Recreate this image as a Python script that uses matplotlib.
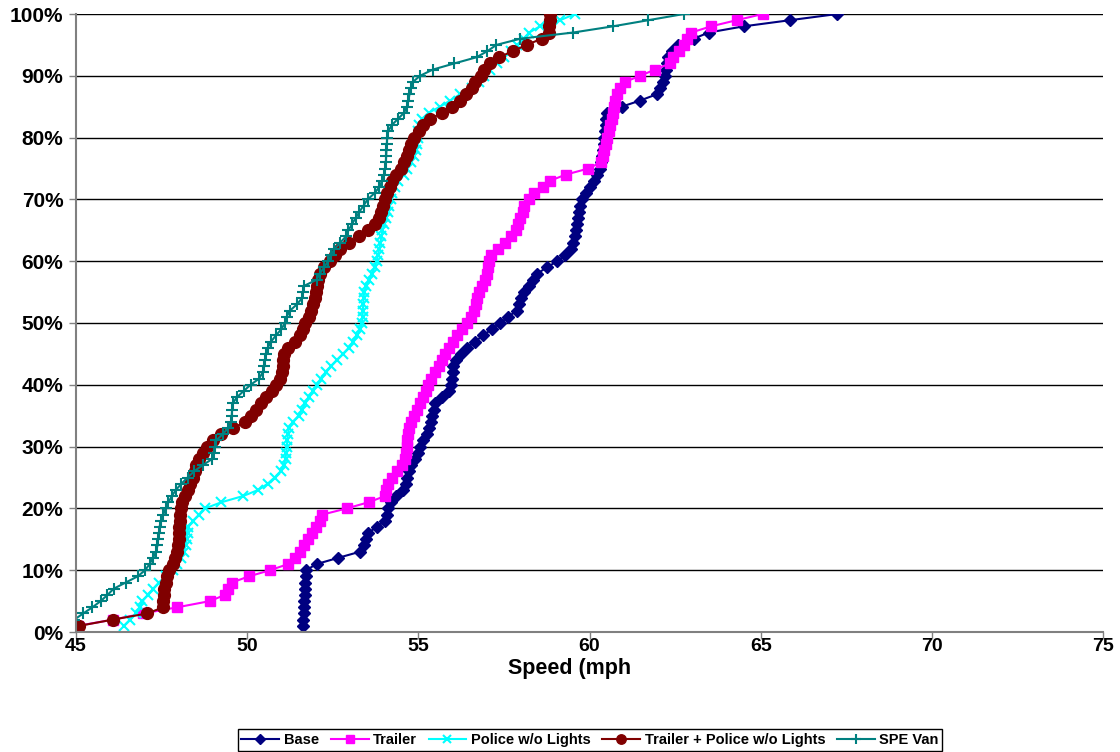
import matplotlib
matplotlib.use("Agg")
import matplotlib.pyplot as plt
from matplotlib.ticker import FuncFormatter

plt.rcParams['font.family'] = ['Liberation Sans', 'DejaVu Sans']

# cumulative percent of vehicles (1..100 %)
percentiles = list(range(1, 101))

# speeds (mph) read at each percentile
baseSpeeds = [
    51.63, 51.64, 51.65, 51.66, 51.67, 51.68, 51.69, 51.70, 51.71, 51.72,
    52.03, 52.66, 53.30, 53.41, 53.47, 53.53, 53.78, 54.03, 54.08, 54.12,
    54.20, 54.35, 54.55, 54.64, 54.68, 54.72, 54.80, 54.90, 54.98, 55.05,
    55.15, 55.24, 55.30, 55.36, 55.40, 55.45, 55.50, 55.70, 55.90, 55.95,
    55.98, 56.00, 56.02, 56.10, 56.25, 56.42, 56.66, 56.90, 57.14, 57.39,
    57.63, 57.87, 57.93, 57.99, 58.08, 58.24, 58.36, 58.48, 58.75, 59.06,
    59.29, 59.45, 59.52, 59.57, 59.60, 59.64, 59.67, 59.70, 59.73, 59.78,
    59.90, 60.02, 60.12, 60.22, 60.31, 60.35, 60.37, 60.39, 60.41, 60.43,
    60.45, 60.47, 60.49, 60.52, 60.94, 61.48, 61.96, 62.06, 62.14, 62.20,
    62.24, 62.27, 62.30, 62.42, 62.58, 63.04, 63.48, 64.50, 65.86, 67.24,
]
trailerSpeeds = [
    45.05, 46.09, 46.97, 47.96, 48.91, 49.35, 49.45, 49.55, 50.05, 50.67,
    51.20, 51.40, 51.55, 51.66, 51.77, 51.88, 52.00, 52.12, 52.20, 52.91,
    53.55, 54.03, 54.06, 54.12, 54.22, 54.38, 54.52, 54.60, 54.64, 54.66,
    54.68, 54.70, 54.73, 54.78, 54.86, 54.96, 55.05, 55.13, 55.21, 55.28,
    55.36, 55.50, 55.60, 55.68, 55.79, 55.90, 56.01, 56.14, 56.28, 56.42,
    56.53, 56.64, 56.69, 56.72, 56.78, 56.87, 56.95, 57.00, 57.03, 57.06,
    57.12, 57.32, 57.52, 57.71, 57.84, 57.92, 57.98, 58.05, 58.10, 58.22,
    58.38, 58.63, 58.84, 59.30, 59.97, 60.33, 60.38, 60.43, 60.48, 60.52,
    60.56, 60.61, 60.66, 60.70, 60.72, 60.75, 60.80, 60.90, 61.03, 61.48,
    61.91, 62.35, 62.45, 62.62, 62.75, 62.86, 62.97, 63.55, 64.30, 65.06,
]
policeSpeeds = [
    46.40, 46.58, 46.75, 46.86, 46.94, 47.10, 47.26, 47.42, 47.62, 47.82,
    47.94, 48.06, 48.15, 48.20, 48.24, 48.26, 48.28, 48.42, 48.60, 48.77,
    49.25, 49.88, 50.33, 50.60, 50.80, 50.98, 51.07, 51.12, 51.14, 51.16,
    51.17, 51.19, 51.22, 51.33, 51.50, 51.60, 51.70, 51.80, 51.92, 52.03,
    52.17, 52.30, 52.45, 52.62, 52.80, 52.97, 53.10, 53.22, 53.30, 53.35,
    53.37, 53.38, 53.39, 53.40, 53.42, 53.48, 53.56, 53.65, 53.72, 53.78,
    53.82, 53.86, 53.89, 53.92, 53.95, 54.01, 54.07, 54.11, 54.15, 54.19,
    54.22, 54.32, 54.42, 54.58, 54.68, 54.78, 54.86, 54.93, 54.97, 55.00,
    55.00, 55.01, 55.10, 55.30, 55.63, 55.93, 56.22, 56.58, 56.76, 56.92,
    57.10, 57.30, 57.50, 57.72, 57.88, 58.08, 58.24, 58.55, 59.14, 59.58,
]
trailerPoliceSpeeds = [
    45.10, 46.07, 47.08, 47.55, 47.55, 47.56, 47.58, 47.62, 47.67, 47.73,
    47.83, 47.90, 47.95, 47.98, 48.00, 48.01, 48.02, 48.03, 48.04, 48.06,
    48.10, 48.17, 48.26, 48.34, 48.42, 48.47, 48.51, 48.60, 48.70, 48.82,
    49.00, 49.25, 49.60, 49.94, 50.12, 50.26, 50.40, 50.56, 50.72, 50.84,
    50.95, 51.01, 51.04, 51.06, 51.09, 51.20, 51.40, 51.55, 51.63, 51.70,
    51.82, 51.87, 51.93, 51.99, 52.01, 52.04, 52.08, 52.13, 52.23, 52.42,
    52.58, 52.70, 52.98, 53.27, 53.54, 53.72, 53.85, 53.92, 53.97, 54.03,
    54.09, 54.16, 54.24, 54.35, 54.48, 54.59, 54.66, 54.72, 54.78, 54.88,
    55.01, 55.15, 55.33, 55.70, 55.98, 56.22, 56.40, 56.56, 56.66, 56.82,
    56.92, 57.10, 57.36, 57.76, 58.17, 58.60, 58.82, 58.83, 58.84, 58.85,
]
speVanSpeeds = [
    44.60, 44.95, 45.21, 45.48, 45.72, 45.92, 46.10, 46.45, 46.80, 47.02,
    47.15, 47.25, 47.34, 47.38, 47.40, 47.42, 47.44, 47.48, 47.55, 47.62,
    47.70, 47.80, 47.92, 48.08, 48.26, 48.45, 48.70, 48.98, 49.04, 49.06,
    49.10, 49.28, 49.45, 49.54, 49.55, 49.56, 49.58, 49.70, 49.90, 50.10,
    50.35, 50.45, 50.50, 50.52, 50.54, 50.60, 50.70, 50.84, 51.00, 51.10,
    51.15, 51.25, 51.45, 51.60, 51.63, 51.66, 52.03, 52.12, 52.25, 52.36,
    52.45, 52.55, 52.72, 52.88, 52.96, 53.06, 53.17, 53.28, 53.40, 53.52,
    53.72, 53.86, 53.94, 54.00, 54.03, 54.05, 54.06, 54.07, 54.08, 54.09,
    54.12, 54.22, 54.40, 54.58, 54.67, 54.71, 54.74, 54.78, 54.84, 55.05,
    55.42, 56.05, 56.70, 57.02, 57.28, 57.98, 59.52, 60.68, 61.72, 62.76,
]

xTicks = [45, 50, 55, 60, 65, 70, 75]
yTicks = list(range(0, 101, 10))

fig = plt.figure(figsize=(11.2, 7.52), dpi=100)
ax = fig.add_axes([76 / 1120, 1 - 632 / 752, (1103 - 76) / 1120, (632 - 14) / 752])

# series styles (Excel-like)
ax.plot(baseSpeeds, percentiles, color='#000080', marker='D', markersize=6,
        linewidth=1.5, label='Base')
ax.plot(trailerSpeeds, percentiles, color='#FF00FF', marker='s', markersize=7.5,
        linewidth=1.5, label='Trailer')
ax.plot(policeSpeeds, percentiles, color='#00FFFF', marker='x', markersize=7,
        markeredgewidth=1.5, linewidth=1.5, label='Police w/o Lights')
ax.plot(trailerPoliceSpeeds, percentiles, color='#800000', marker='o', markersize=8.5,
        linewidth=1.5, label='Trailer + Police w/o Lights')
ax.plot(speVanSpeeds, percentiles, color='#008080', marker='+', markersize=9,
        markeredgewidth=1.5, linewidth=1.5, label='SPE Van')

ax.set_xlim(45, 75)
ax.set_ylim(0, 100)
ax.set_xticks(xTicks)
ax.set_yticks(yTicks)
ax.yaxis.set_major_formatter(FuncFormatter(lambda v, pos: f"{int(v)}%"))

ax.grid(True, axis='y', color='black', linewidth=1)
ax.set_axisbelow(True)
for side in ['top', 'right']:
    ax.spines[side].set_visible(False)
for side in ['left', 'bottom']:
    ax.spines[side].set_color('#808080')
    ax.spines[side].set_linewidth(1.5)

ax.tick_params(axis='both', direction='out', length=5, color='#808080', width=1)
ax.tick_params(axis='x', pad=-1, labelsize=14)
ax.tick_params(axis='y', pad=4, labelsize=15)
for lbl in ax.get_xticklabels() + ax.get_yticklabels():
    lbl.set_fontweight('bold')

ax.set_xlabel("Speed (mph", fontsize=15.5, fontweight='bold')
ax.xaxis.set_label_coords((570 - 76) / 1027, -(658 - 632) / 618)

leg = fig.legend(loc='center', bbox_to_anchor=(590 / 1120, 1 - 740 / 752), ncol=5,
                 frameon=True, fancybox=False, edgecolor='black', framealpha=1,
                 prop={'weight': 'bold', 'size': 10.5}, handlelength=2.6,
                 columnspacing=0.8, handletextpad=0.3, borderpad=0.25,
                 markerscale=0.8)
leg.get_frame().set_linewidth(1)

fig.savefig("out.png", dpi=100)
